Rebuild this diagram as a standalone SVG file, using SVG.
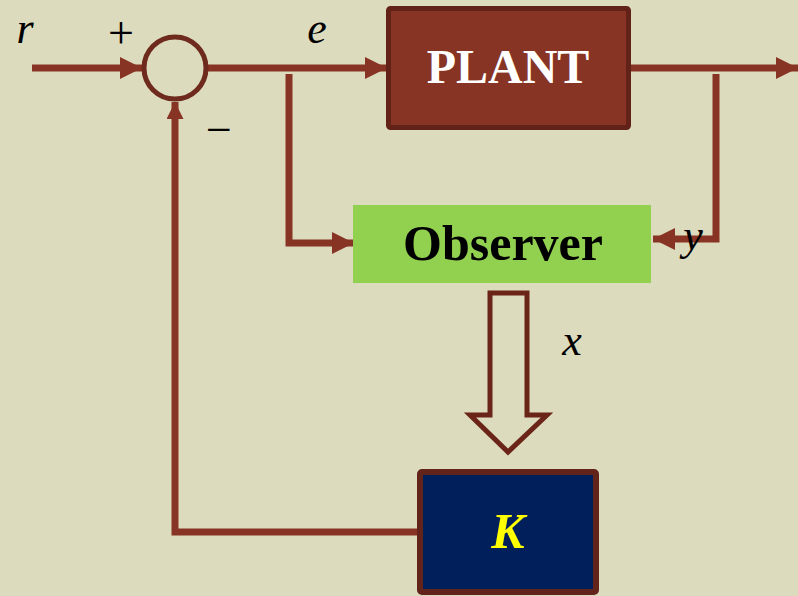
<svg xmlns="http://www.w3.org/2000/svg" width="798" height="596" viewBox="0 0 798 596">
<defs>
<marker id="ah" viewBox="0 0 10 10" refX="10" refY="5" markerWidth="22" markerHeight="22" markerUnits="userSpaceOnUse" orient="auto"><path d="M0,0 L10,5 L0,10 z" fill="#873424"/></marker>
<marker id="ahs" viewBox="0 0 10 10" refX="10" refY="5" markerWidth="17" markerHeight="17" markerUnits="userSpaceOnUse" orient="auto"><path d="M0,0 L10,5 L0,10 z" fill="#873424"/></marker>
</defs>
<style>
.ln{fill:none;stroke:#873424;stroke-width:7}
.lbl{font-family:"Liberation Serif",serif;font-style:italic;font-size:44px;fill:#000}
.sym{font-family:"Liberation Serif",serif;font-size:46px;fill:#000}
.box{font-family:"Liberation Serif",serif;font-weight:bold;text-anchor:middle}
</style>
<rect width="798" height="596" fill="#DCDBBD"/>
<g id="connectors">
<path class="ln" d="M32,68 H142" marker-end="url(#ah)"/>
<path class="ln" d="M208,68 H387" marker-end="url(#ah)"/>
<path class="ln" d="M289,74 V243 H354" marker-end="url(#ah)"/>
<path class="ln" d="M631,68 H798" marker-end="url(#ah)"/>
<path class="ln" d="M716,74 V239 H653" marker-end="url(#ah)"/>
<path class="ln" d="M419,532 H175 V102" stroke-width="6" marker-end="url(#ahs)"/>
<path d="M490,293 H527 V415 H547 L508,452 L470,415 H490 Z" fill="#DCDBBD" stroke="#6B2418" stroke-width="5"/>
</g>
<g id="sum">
<circle cx="175" cy="68" r="31" fill="none" stroke="#6E2A1C" stroke-width="5"/>
</g>
<g id="plant">
<rect x="388.5" y="8.5" width="240" height="119" rx="2" fill="#873424" stroke="#622218" stroke-width="5"/>
<text class="box" x="508" y="83" font-size="48" fill="#FFFFFF">PLANT</text>
</g>
<g id="observer">
<rect x="353" y="205" width="298" height="78" fill="#92D050"/>
<text class="box" x="503" y="260" font-size="50" fill="#000000">Observer</text>
</g>
<g id="gain">
<rect x="420" y="472" width="176" height="120" rx="2" fill="#001F5B" stroke="#62241A" stroke-width="6"/>
<text class="box" x="508" y="548" font-size="50" font-style="italic" fill="#FFFF00">K</text>
</g>
<g id="labels">
<text class="lbl" x="25" y="43" text-anchor="middle">r</text>
<text class="sym" x="121" y="48" text-anchor="middle">+</text>
<text class="lbl" x="317" y="43" text-anchor="middle">e</text>
<text class="sym" x="219" y="145" text-anchor="middle">−</text>
<text class="lbl" x="693" y="250" text-anchor="middle">y</text>
<text class="lbl" x="572" y="355" text-anchor="middle">x</text>
</g>
</svg>
